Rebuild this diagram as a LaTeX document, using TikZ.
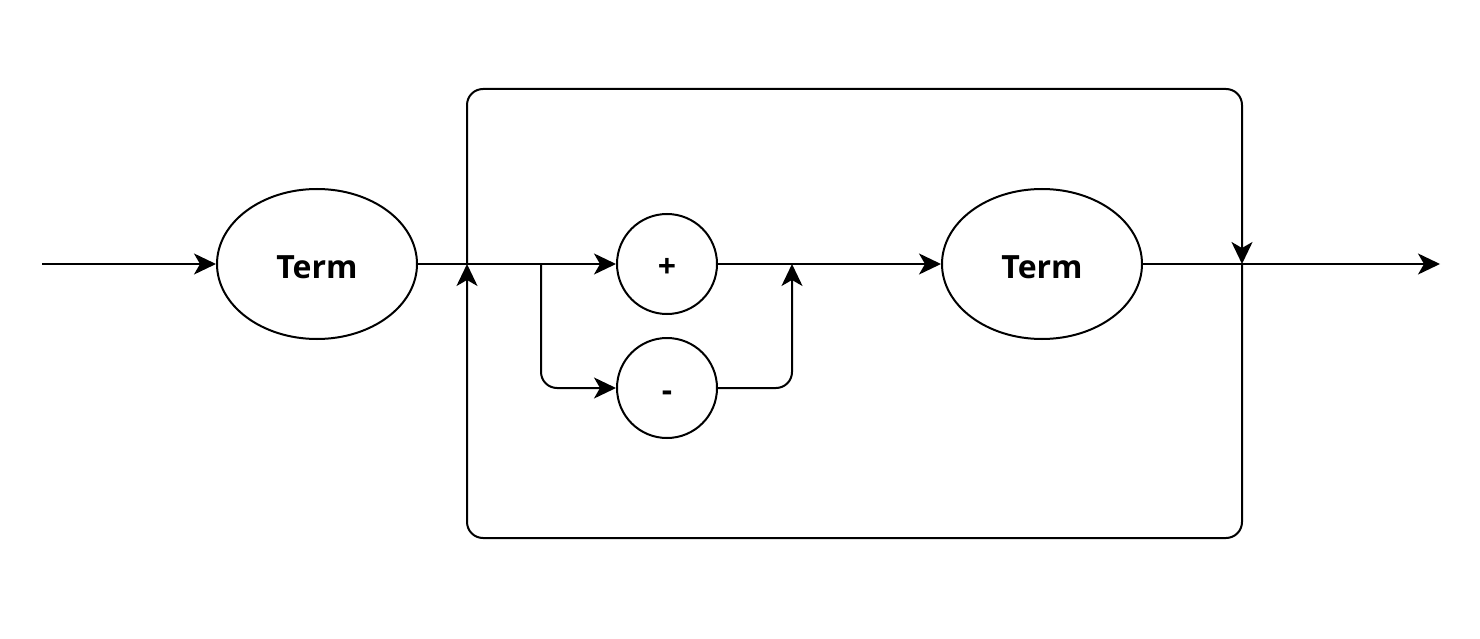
\documentclass[tikz,border=0pt]{standalone}
\usepackage{fontspec}
\setmainfont{Open Sans}
\usetikzlibrary{arrows.meta,shapes.geometric}
\begin{document}
\begin{tikzpicture}[x=1pt,y=-1pt,line width=2pt,
  arr/.style={-{Stealth[length=22pt,width=21pt,inset=6pt]}},
  lbl/.style={font=\fontsize{32}{36}\selectfont\bfseries,text height=28pt,text depth=0pt},
  term/.style={ellipse,draw,minimum width=200pt,minimum height=150pt,inner sep=0pt,lbl},
  op/.style={circle,draw,minimum size=100pt,inner sep=0pt,lbl,text height=26pt},
  rc/.style={rounded corners=16pt}]
\fill[white] (0,0) rectangle (1480,639);
\useasboundingbox (0,0) rectangle (1480,639);
\node[term] (t1) at (317,264) {Term};
\node[op] (plus) at (667,264) {+};
\node[op] (minus) at (667,388) {-};
\node[term] (t2) at (1042,264) {Term};
\coordinate (start) at (42,264);
\coordinate (stop) at (1440,264);
\coordinate (lj) at (467,264);
\coordinate (rj) at (1242,264);
\coordinate (br) at (541,264);
\coordinate (mj) at (792,264);
\coordinate (rtop) at (1242,89);
\coordinate (lbot) at (467,538);
\draw[arr] (start) -- (t1);
\draw[arr] (t1) -- (plus);
\draw[arr,rc] (br) |- (minus);
\draw[arr,rc] (minus) -| (mj);
\draw[arr] (plus) -- (t2);
\draw[arr] (t2) -- (stop);
\draw[arr,rc] (lj) |- (rtop) -- (rj);
\draw[arr,rc] (rj) |- (lbot) -- (lj);
\end{tikzpicture}
\end{document}
